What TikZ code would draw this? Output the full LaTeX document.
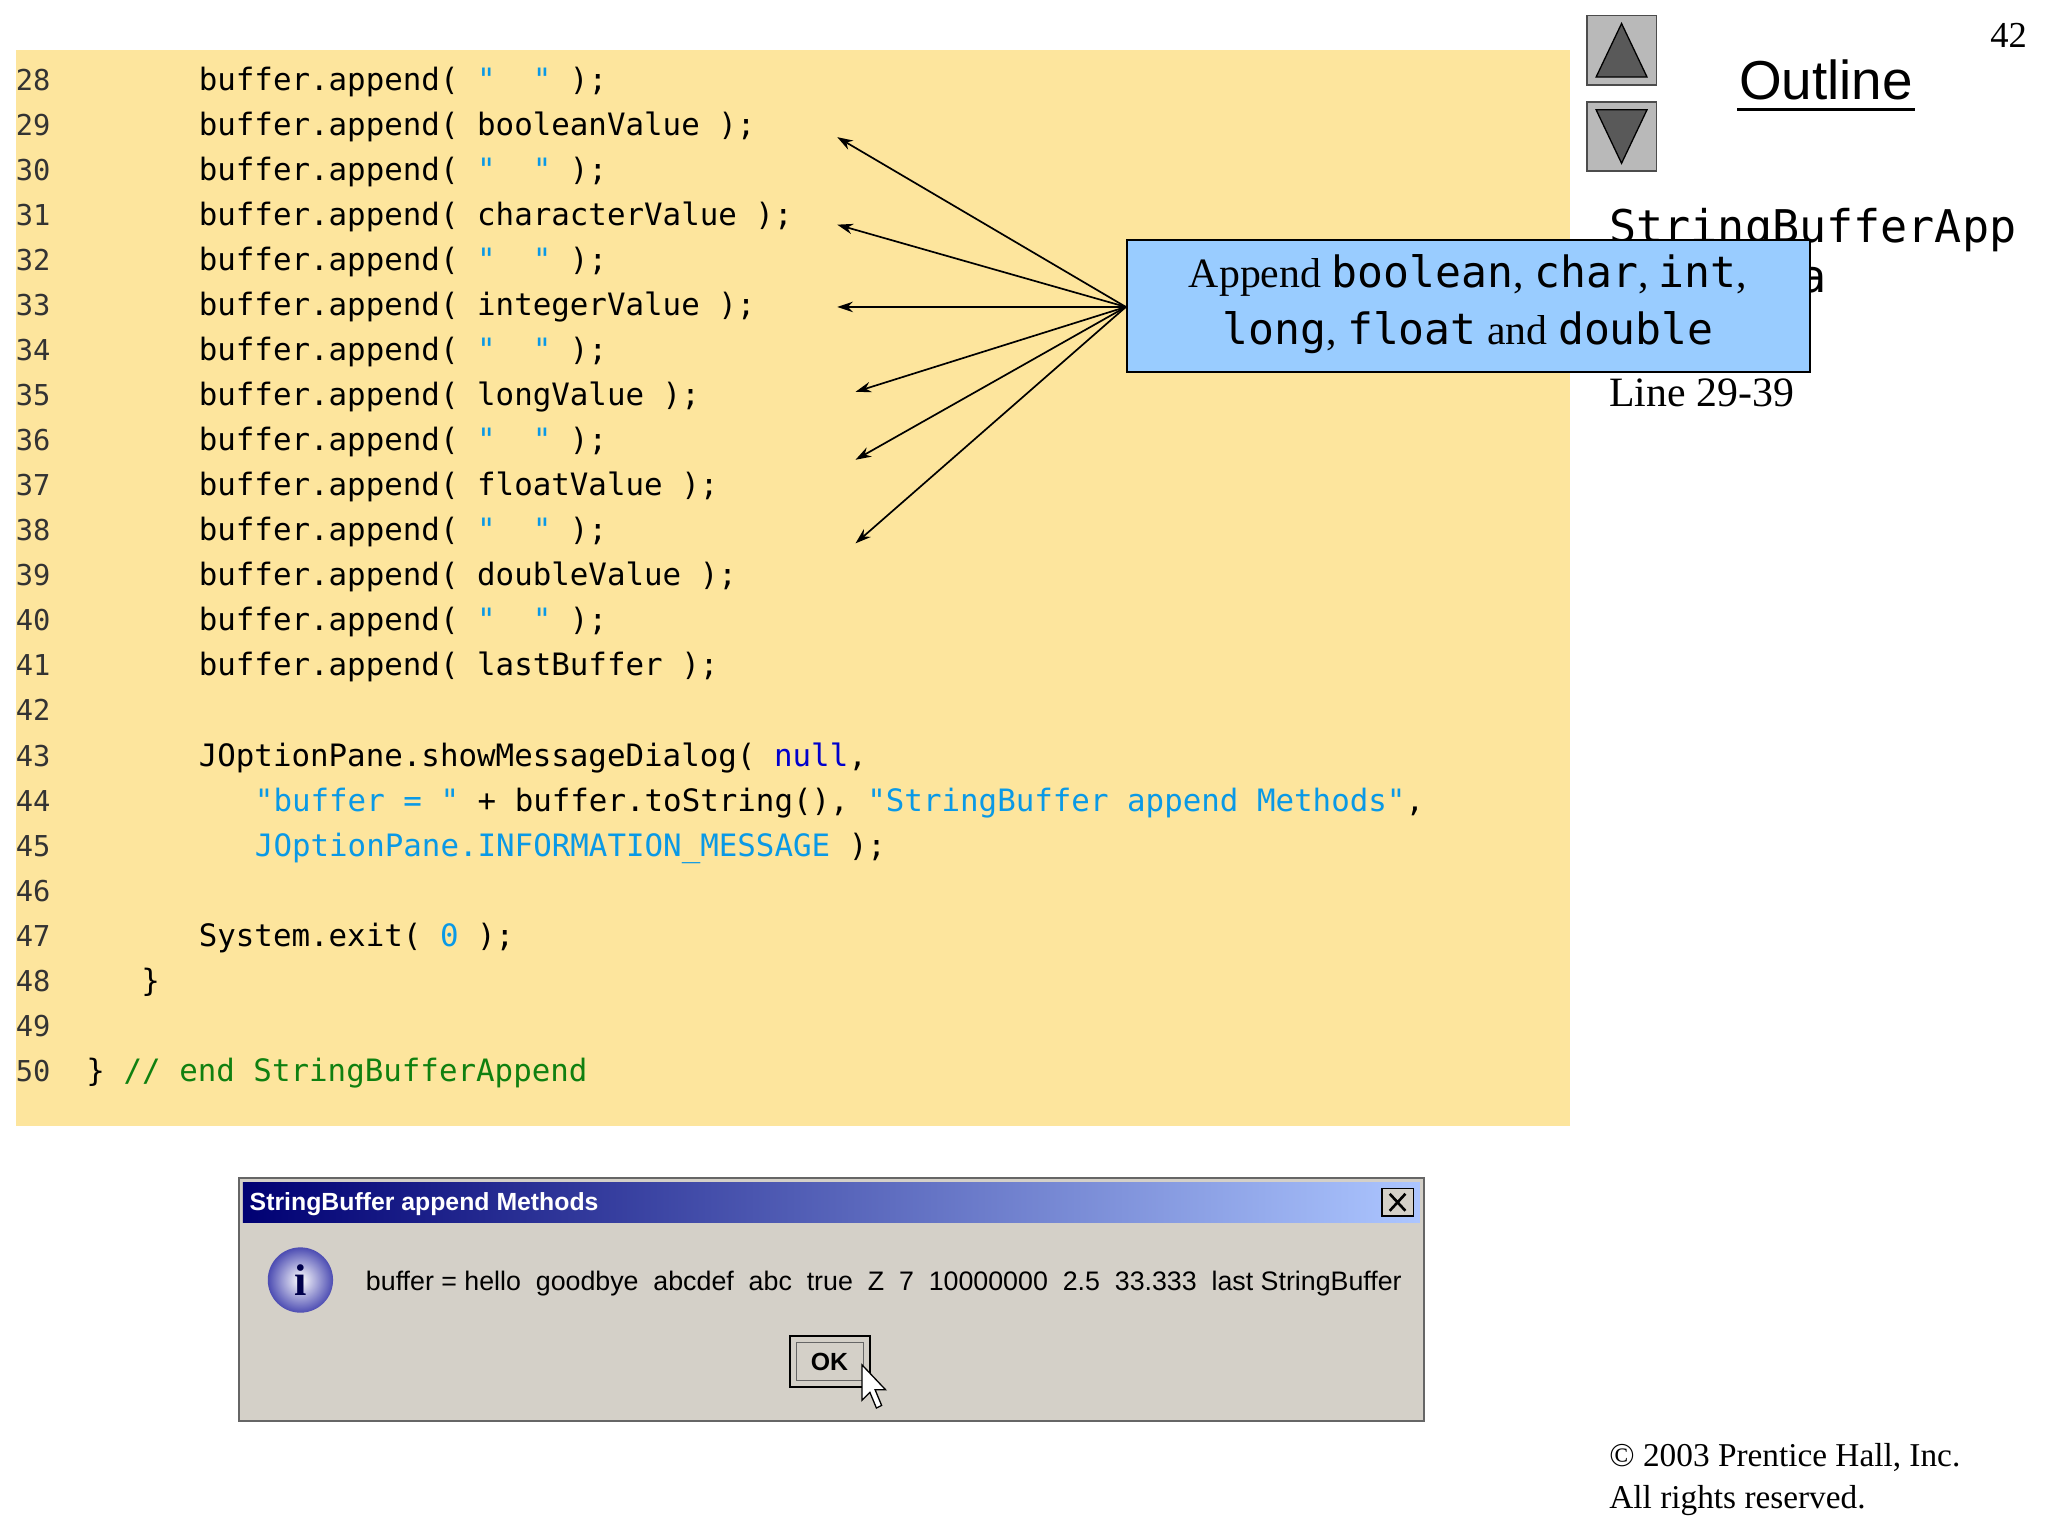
\documentclass[tikz,border=0pt]{standalone}
\usepackage{fontspec}
\setmainfont{Liberation Serif}
\newfontfamily\mono{DejaVu Sans Mono}
\newfontfamily\sans{Liberation Sans}
\usetikzlibrary{arrows.meta}
\definecolor{bgy}{HTML}{FDE59D}
\definecolor{strc}{HTML}{0A99E6}
\definecolor{nullc}{HTML}{0000CC}
\definecolor{comc}{HTML}{108010}
\definecolor{callc}{HTML}{99CCFF}
\definecolor{wing}{HTML}{D4D0C8}
\begin{document}
\begin{tikzpicture}[x=1pt,y=-1pt,
 code/.style={anchor=base west,inner sep=0,font=\mono\fontsize{23.6}{23.6}\selectfont},
 num/.style={anchor=base west,inner sep=0,font=\mono\fontsize{22}{22}\selectfont,text=black!80},
 arr/.style={-{Stealth[length=12pt,width=8pt]},line width=1.3pt}]
\useasboundingbox (0,0) rectangle (1568,1176);
\fill[white] (0,0) rectangle (1568,1176);
\fill[bgy] (12,38) rectangle (1202,862);
% line numbers
\foreach \n [count=\i from 0] in {28,...,50}
  \node[num] at (12,{69+34.5*\i}) {\n};
\def\S{\textcolor{strc}{"\ \ "}}
\node[code] at (152,69) {buffer.append( \S{} );};
\node[code] at (152,103.5) {buffer.append( booleanValue );};
\node[code] at (152,138) {buffer.append( \S{} );};
\node[code] at (152,172.5) {buffer.append( characterValue );};
\node[code] at (152,207) {buffer.append( \S{} );};
\node[code] at (152,241.5) {buffer.append( integerValue );};
\node[code] at (152,276) {buffer.append( \S{} );};
\node[code] at (152,310.5) {buffer.append( longValue );};
\node[code] at (152,345) {buffer.append( \S{} );};
\node[code] at (152,379.5) {buffer.append( floatValue );};
\node[code] at (152,414) {buffer.append( \S{} );};
\node[code] at (152,448.5) {buffer.append( doubleValue );};
\node[code] at (152,483) {buffer.append( \S{} );};
\node[code] at (152,517.5) {buffer.append( lastBuffer );};
\node[code] at (152,586.5) {JOptionPane.showMessageDialog( \textcolor{nullc}{null},};
\node[code] at (195,621) {\textcolor{strc}{"buffer = "} + buffer.toString(), \textcolor{strc}{"StringBuffer append Methods"},};
\node[code] at (195,655.5) {\textcolor{strc}{JOptionPane.INFORMATION\_MESSAGE} );};
\node[code] at (152,724.5) {System.exit( \textcolor{strc}{0} );};
\node[code] at (108,759) {\}};
\node[code] at (66,828) {\} \textcolor{comc}{// end StringBufferAppend}};
% right side
\node[anchor=base east,inner sep=0,font=\fontsize{28}{28}\selectfont] at (1552,36) {42};
\foreach \yy in {12,78}{
  \fill[gray!55] (1215,\yy) rectangle (1268,\yy+53);
  \draw[black!70,line width=1pt] (1215,\yy) rectangle (1268,\yy+53);
}
\fill[black!65] (1241.5,18) -- (1222,59) -- (1261,59) -- cycle;
\draw[black,line width=1pt] (1241.5,18) -- (1222,59) -- (1261,59) -- cycle;
\fill[black!65] (1241.5,125) -- (1222,84) -- (1261,84) -- cycle;
\draw[black,line width=1pt] (1241.5,125) -- (1222,84) -- (1261,84) -- cycle;
\node[anchor=base,inner sep=0,font=\sans\fontsize{42}{42}\selectfont] (outl) at (1398,76) {Outline};
\draw[line width=2pt] (1330,84) -- (1466,84);
\node[anchor=base west,inner sep=0,font=\mono\fontsize{34.5}{34.5}\selectfont] at (1232,186) {StringBufferApp};
\node[anchor=base west,inner sep=0,font=\mono\fontsize{34.5}{34.5}\selectfont] at (1232,224) {end.java};
\node[anchor=base west,inner sep=0,font=\fontsize{32}{32}\selectfont] at (1232,311) {Line 29-39};
\node[anchor=base west,inner sep=0,font=\fontsize{25.5}{25.5}\selectfont] at (1232,1123) {\textcopyright{} 2003 Prentice Hall, Inc.};
\node[anchor=base west,inner sep=0,font=\fontsize{25.5}{25.5}\selectfont] at (1232,1155) {All rights reserved.};
% callout
\node[draw=black,line width=1.3pt,fill=callc,minimum width=523pt,minimum height=101pt,anchor=north west,inner sep=0] (call) at (862,183) {};
\node[align=center,inner sep=0,font=\fontsize{32}{44}\selectfont] at (1124,233) {Append {\mono\fontsize{33}{33}\selectfont boolean}, {\mono\fontsize{33}{33}\selectfont char}, {\mono\fontsize{33}{33}\selectfont int},\\{\mono\fontsize{33}{33}\selectfont long}, {\mono\fontsize{33}{33}\selectfont float} and {\mono\fontsize{33}{33}\selectfont double}};
\coordinate (src) at (862,235);
\foreach \tx/\ty [count=\k] in {641/105,641/172,641/235,655/300,655/352,655/416}{
  \coordinate (t\k) at (\tx,\ty);
  \draw[arr] (src) -- (t\k);
}
% dialog
\fill[wing] (183,902) rectangle (1090,1088);
\draw[black!60,line width=1.5pt] (183,902) rectangle (1090,1088);
\shade[left color=blue!45!black,right color=blue!25!white!90!cyan] (186,905) rectangle (1087,936);
\node[anchor=base west,inner sep=0,text=white,font=\sans\bfseries\fontsize{19}{19}\selectfont] at (191,927) {StringBuffer append Methods};
\fill[wing] (1058,910) rectangle (1082,931);
\draw[black,line width=1pt] (1058,910) rectangle (1082,931);
\draw[line width=2pt] (1064,914) -- (1076,927) (1064,927) -- (1076,914);
\shade[inner color=white,outer color=blue!40!gray] (230,980) circle (25);
\node[font=\fontsize{34}{34}\selectfont\bfseries,text=blue!30!black] at (230,980) {i};
\node[anchor=base west,inner sep=0,font=\sans\fontsize{20.5}{20.5}\selectfont] at (280,988) {buffer = hello\ \ goodbye\ \ abcdef\ \ abc\ \ true\ \ Z\ \ 7\ \ 10000000\ \ 2.5\ \ 33.333\ \ last StringBuffer};
\fill[wing] (605,1023) rectangle (666,1062);
\draw[black,line width=1.5pt] (605,1023) rectangle (666,1062);
\draw[black!60,line width=1pt] (610,1028) rectangle (661,1057);
\node[font=\sans\bfseries\fontsize{19}{19}\selectfont] at (635,1043) {OK};
\draw[fill=white,line width=1pt] (660,1045) -- (660,1072) -- (666,1066) -- (671,1078) -- (675,1076) -- (670,1064) -- (678,1064) -- cycle;
\end{tikzpicture}
\end{document}
